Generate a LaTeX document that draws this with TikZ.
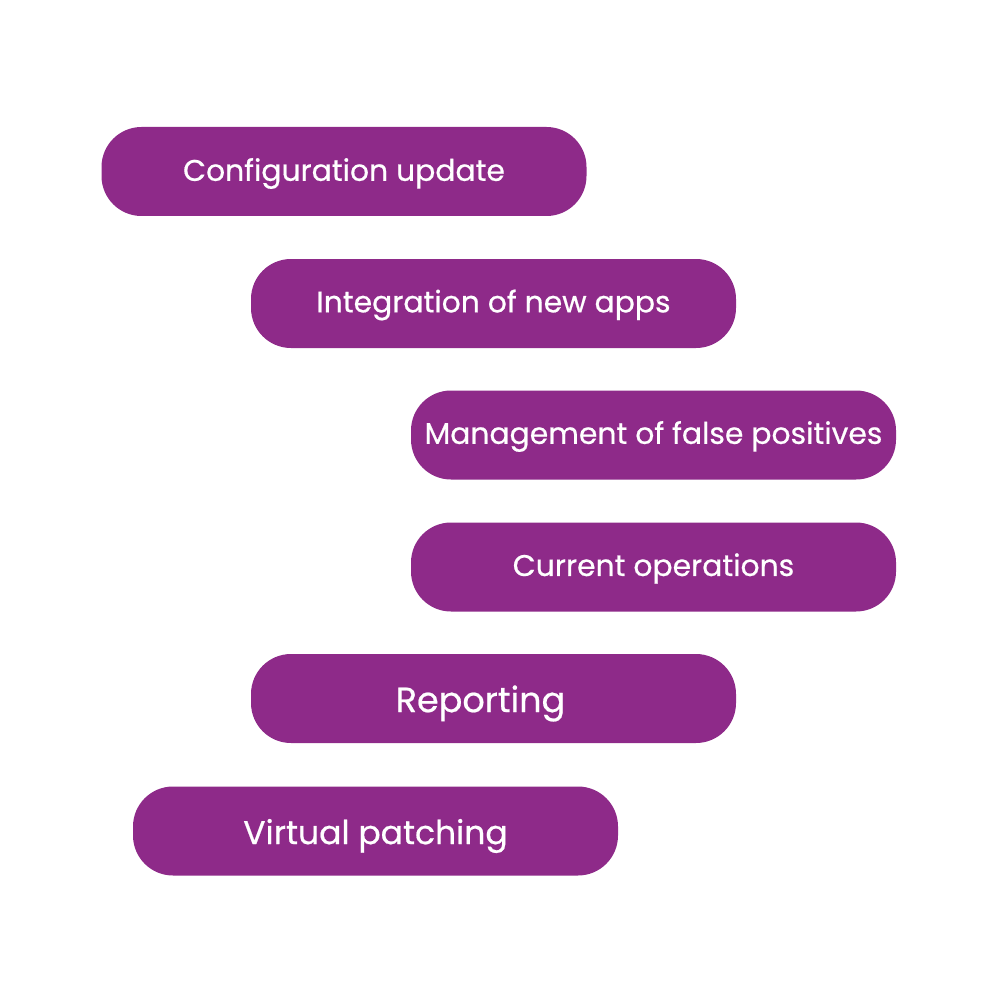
\documentclass[tikz,border=0pt]{standalone}
\usepackage{fontspec}
\setmainfont{Poppins}[FakeBold=0.6]
\definecolor{pill}{RGB}{142,42,137}
\begin{document}
\begin{tikzpicture}[x=1pt,y=-1pt,
  pillbox/.style={fill=pill, rounded corners=40pt, minimum width=485pt, minimum height=89pt, inner sep=0pt},
  small/.style={text=white, inner sep=0pt, font=\fontsize{29.8}{34}\selectfont},
  big/.style={text=white, inner sep=0pt, font=\fontsize{34}{40}\selectfont}]
\useasboundingbox (0,0) rectangle (1000,1000);
\node[pillbox] (a) at (344,171.5) {};
\node[pillbox] (b) at (493.5,303.5) {};
\node[pillbox] (c) at (653.5,435) {};
\node[pillbox] (d) at (653.5,567) {};
\node[pillbox] (e) at (493.5,698.5) {};
\node[pillbox] (f) at (375.5,831) {};
\node[small] (at) at ([yshift=-2pt]a.center) {Configuration update};
\node[small] (bt) at ([yshift=-1.5pt]b.center) {Integration of new apps};
\node[small] (ct) at ([yshift=-1.5pt]c.center) {Management of false positives};
\node[small] (dt) at ([yshift=-1.5pt]d.center) {Current operations};
\node[big, font=\fontsize{35}{40}\selectfont] (et) at ([xshift=-13pt,yshift=-5pt]e.center) {Reporting};
\node[big, font=\fontsize{33}{40}\selectfont] (ft) at ([yshift=-5pt]f.center) {Virtual patching};
\end{tikzpicture}
\end{document}
